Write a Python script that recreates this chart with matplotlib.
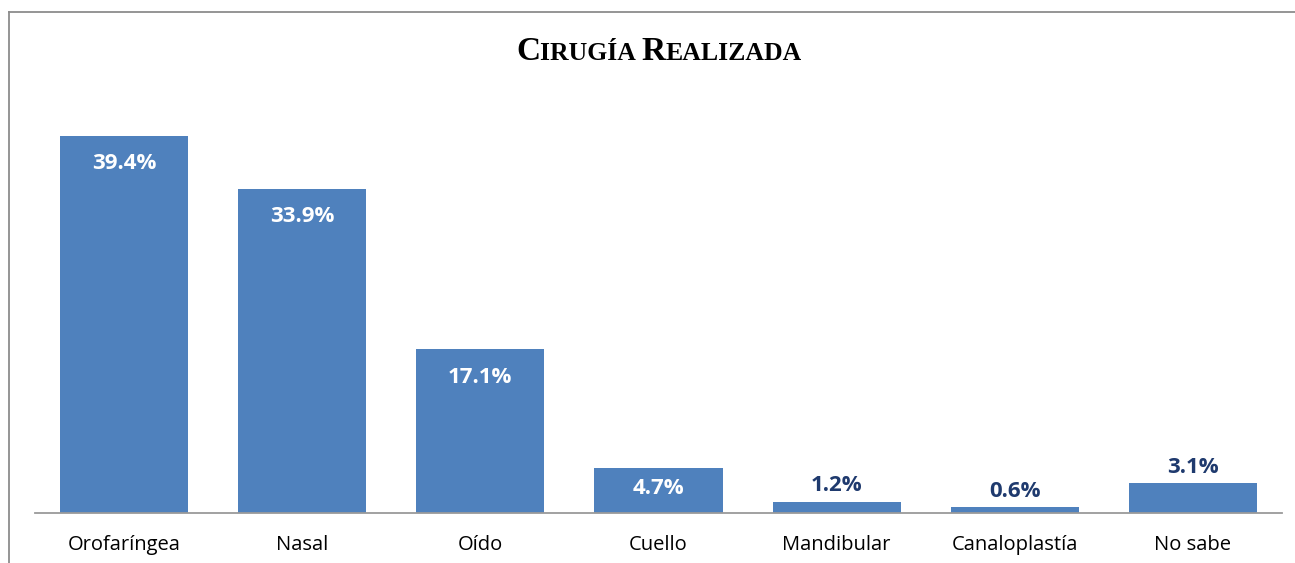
import numpy as np
import matplotlib
matplotlib.use("Agg")
from matplotlib import pyplot as plt
from matplotlib.lines import Line2D

categorias = ["Orofaríngea", "Nasal", "Oído", "Cuello", "Mandibular", "Canaloplastía", "No sabe"]
valores = [39.4, 33.9, 17.1, 4.7, 1.2, 0.6, 3.1]
etiquetas = ["39.4%", "33.9%", "17.1%", "4.7%", "1.2%", "0.6%", "3.1%"]

AZUL = "#4F81BD"
NAVY = "#1F3A6E"
fuente = "Open Sans"

fig = plt.figure(figsize=(12.95, 5.63), dpi=100)
ax = fig.add_axes([35/1295, 50/563, 1247/1295, 430.7/563])

x = np.arange(len(categorias))
ax.bar(x, valores, width=0.72, color=AZUL, zorder=2)
ax.set_xlim(-0.5, len(categorias) - 0.5)
ax.set_ylim(0, 45)

for s in ["top", "right", "left"]:
    ax.spines[s].set_visible(False)
ax.spines["bottom"].set_color("#9A9A9A")
ax.spines["bottom"].set_linewidth(1.3)
ax.set_yticks([])
ax.set_xticks(x)
ax.set_xticklabels(categorias, fontfamily=fuente, fontsize=14.5, color="black")
ax.tick_params(axis="x", length=0, pad=16)

# etiquetas de datos: dentro (blanco) o encima (azul oscuro)
px_por_unidad = 430.7 / 45
for xi, v, t in zip(x, valores, etiquetas):
    alto = v * px_por_unidad
    if v >= 4:
        off = -min(28, alto / 2 - 2)
        col = "white"
    else:
        off = 16
        col = NAVY
    ax.annotate(t, (xi, v), xytext=(0, off * 0.72), textcoords="offset points",
                ha="center", va="center", fontsize=16, fontweight="bold",
                fontfamily=fuente, color=col, zorder=3)

# titulo en versalitas
partes = [("C", 24), ("IRUGÍA ", 18.5), ("R", 24), ("EALIZADA", 18.5)]
fig.canvas.draw()
r = fig.canvas.get_renderer()
textos = []
for s, tam in partes:
    textos.append(fig.text(0, 0, s, fontsize=tam, fontfamily="Liberation Serif",
                           fontweight="bold", color="black", va="baseline"))
anchos = [t.get_window_extent(r).width for t in textos]
total = sum(anchos)
x0 = 659 - total / 2
for t, w in zip(textos, anchos):
    t.set_position((x0 / 1295, 1 - 60 / 563))
    x0 += w

# marco
fig.add_artist(Line2D([9/1295, 9/1295], [0, 1 - 12/563], color="#8C8C8C", lw=1.3))
fig.add_artist(Line2D([9/1295, 1], [1 - 12/563, 1 - 12/563], color="#8C8C8C", lw=1.3))

fig.savefig("out.png", dpi=100)
